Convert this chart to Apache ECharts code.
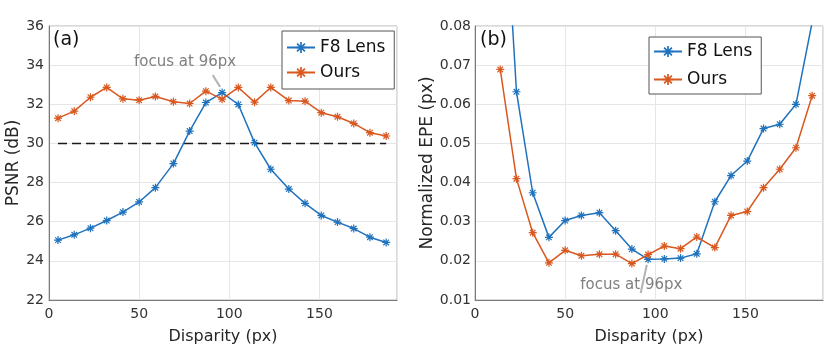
<!DOCTYPE html>
<html>
<head>
<meta charset="utf-8">
<script src="https://cdn.jsdelivr.net/npm/echarts@6/dist/echarts.min.js"></script>
<style>
  html, body { margin: 0; padding: 0; background: #fff; }
  #chart { width: 830px; height: 346px; }
</style>
</head>
<body>
<div id="chart"></div>
<script>
// disparity samples (px)
const dispX = [5, 14, 23, 32, 41, 50, 59, 69, 78, 87, 96, 105, 114, 123, 133, 142, 151, 160, 169, 178, 187];
// (a) PSNR (dB)
const psnrF8 = [25.06, 25.33, 25.67, 26.06, 26.49, 27.01, 27.74, 28.97, 30.63, 32.09, 32.60, 31.99, 30.04, 28.68, 27.67, 26.94, 26.32, 25.98, 25.65, 25.21, 24.94];
const psnrOurs = [31.29, 31.65, 32.36, 32.86, 32.28, 32.21, 32.40, 32.13, 32.04, 32.67, 32.26, 32.86, 32.11, 32.86, 32.19, 32.16, 31.57, 31.36, 31.02, 30.55, 30.38];
const psnrRef = 30;
const refX = [5, 187];
// (b) normalized EPE (px), starts at 14px
const epeX = [14, 23, 32, 41, 50, 59, 69, 78, 87, 96, 105, 114, 123, 133, 142, 151, 160, 169, 178, 187];
const epeF8 = [0.133, 0.0632, 0.0374, 0.0260, 0.0303, 0.0316, 0.0323, 0.0277, 0.0230, 0.0204, 0.0205, 0.0207, 0.0218, 0.0351, 0.0418, 0.0455, 0.0538, 0.0549, 0.0600, 0.0810];
const epeOurs = [0.0689, 0.0410, 0.0272, 0.0195, 0.0227, 0.0213, 0.0217, 0.0217, 0.0193, 0.0216, 0.0238, 0.0231, 0.0261, 0.0234, 0.0316, 0.0326, 0.0387, 0.0434, 0.0489, 0.0622];

const FONT = 'DejaVu Sans';
const BLUE = '#1f72bd';
const ORANGE = '#d9581f';
// asterisk marker like matlab '*'
const STAR = 'path://M-1.5,-10L1.5,-10L1.5,10L-1.5,10Z' +
  'M-10,-1.5L10,-1.5L10,1.5L-10,1.5Z' +
  'M-5.94,-8.06L8.06,5.94L5.94,8.06L-8.06,-5.94Z' +
  'M-8.06,5.94L5.94,-8.06L8.06,-5.94L-5.94,8.06Z';

function zip (xs, ys) {
  return xs.map((x, i) => [x, ys[i]]);
}

function xAxisOf (idx) {
  return {
    type: 'value',
    gridIndex: idx,
    min: 0,
    max: 193,
    interval: 50,
    name: 'Disparity (px)',
    nameLocation: 'middle',
    nameGap: 29,
    nameTextStyle: { fontFamily: FONT, fontSize: 16, color: '#262626' },
    axisLine: { lineStyle: { color: '#7a7a7a' } },
    axisTick: { show: false },
    axisLabel: { fontFamily: FONT, fontSize: 14, color: '#333', margin: 7, showMaxLabel: false },
    splitLine: { lineStyle: { color: '#e6e6e6' } }
  };
}

function lineSeries (name, idx, data, color) {
  return {
    name: name,
    type: 'line',
    xAxisIndex: idx,
    yAxisIndex: idx,
    data: data,
    symbol: STAR,
    symbolSize: 8,
    showAllSymbol: true,
    lineStyle: { color: color, width: 1.5 },
    itemStyle: { color: color },
    animation: false
  };
}

const chart = echarts.init(document.getElementById('chart'));
const option = {
  animation: false,
  grid: [
    { left: 49, top: 26, right: 433, bottom: 46, outerBoundsMode: 'none', containLabel: false, show: true, borderColor: '#b5b5b5', borderWidth: 1 },
    { left: 475, top: 26, right: 7, bottom: 46, outerBoundsMode: 'none', containLabel: false, show: true, borderColor: '#b5b5b5', borderWidth: 1 }
  ],
  xAxis: [xAxisOf(0), xAxisOf(1)],
  yAxis: [
    {
      type: 'value',
      gridIndex: 0,
      min: 22,
      max: 36,
      interval: 2,
      name: 'PSNR (dB)',
      nameLocation: 'middle',
      nameGap: 25,
      nameTextStyle: { fontFamily: FONT, fontSize: 17, color: '#262626' },
      axisLine: { show: true, lineStyle: { color: '#7a7a7a' } },
      axisTick: { show: false },
      axisLabel: { fontFamily: FONT, fontSize: 14, color: '#333', margin: 5 },
      splitLine: { lineStyle: { color: '#e6e6e6' } }
    },
    {
      type: 'value',
      gridIndex: 1,
      min: 0.01,
      max: 0.08,
      interval: 0.01,
      name: 'Normalized EPE (px)',
      nameLocation: 'middle',
      nameGap: 38,
      nameTextStyle: { fontFamily: FONT, fontSize: 17, color: '#262626' },
      axisLine: { show: true, lineStyle: { color: '#7a7a7a' } },
      axisTick: { show: false },
      axisLabel: {
        fontFamily: FONT, fontSize: 14, color: '#333', margin: 4,
        formatter: function (v) { return v.toFixed(2); }
      },
      splitLine: { lineStyle: { color: '#e6e6e6' } }
    }
  ],
  legend: [
    {
      orient: 'vertical',
      left: 282,
      top: 31,
      data: ['F8 Lens', 'Ours'],
      itemWidth: 28,
      itemHeight: 14,
      itemGap: 8,
      padding: [8, 9, 8, 4],
      backgroundColor: '#fff',
      borderColor: '#555',
      borderWidth: 1,
      borderRadius: 0,
      textStyle: { fontFamily: FONT, fontSize: 17, color: '#111' },
      selectedMode: false
    },
    {
      orient: 'vertical',
      left: 649,
      top: 37,
      data: ['F8 Lens', 'Ours'],
      itemWidth: 28,
      itemHeight: 14,
      itemGap: 11,
      padding: [6, 9, 6, 4],
      backgroundColor: '#fff',
      borderColor: '#555',
      borderWidth: 1,
      borderRadius: 0,
      textStyle: { fontFamily: FONT, fontSize: 17, color: '#111' },
      selectedMode: false
    }
  ],
  series: [
    {
      name: 'ref',
      type: 'line',
      xAxisIndex: 0,
      yAxisIndex: 0,
      data: zip(refX, refX.map(() => psnrRef)),
      symbol: 'none',
      lineStyle: { color: '#1a1a1a', width: 1.4, type: [9, 5] },
      silent: true,
      z: 1
    },
    lineSeries('F8 Lens', 0, zip(dispX, psnrF8), BLUE),
    lineSeries('Ours', 0, zip(dispX, psnrOurs), ORANGE),
    lineSeries('F8 Lens', 1, zip(epeX, epeF8), BLUE),
    lineSeries('Ours', 1, zip(epeX, epeOurs), ORANGE)
  ]
};
chart.setOption(option);

// annotations placed in data coordinates
function px (idx, p) {
  return chart.convertToPixel({ gridIndex: idx }, p);
}
const aText = px(0, [75.5, 34.17]);
const aL1 = px(0, [90.8, 33.49]);
const aL2 = px(0, [94.9, 32.89]);
const bText = px(1, [86.7, 0.0139]);
const bL1 = px(1, [95.3, 0.0190]);
const bL2 = px(1, [91.9, 0.0118]);
const annoStyle = { fontFamily: FONT, fontSize: 15, fill: '#7f7f7f', align: 'center', verticalAlign: 'middle' };
const panelStyle = { fontFamily: FONT, fontSize: 19, fill: '#111', verticalAlign: 'middle' };
chart.setOption({
  graphic: [
    { type: 'line', shape: { x1: aL1[0], y1: aL1[1], x2: aL2[0], y2: aL2[1] }, style: { stroke: '#b3b3b3', lineWidth: 2 }, z: 10 },
    { type: 'text', x: aText[0], y: aText[1], style: Object.assign({ text: 'focus at 96px' }, annoStyle), z: 10 },
    { type: 'line', shape: { x1: bL1[0], y1: bL1[1], x2: bL2[0], y2: bL2[1] }, style: { stroke: '#b3b3b3', lineWidth: 2 }, z: 10 },
    { type: 'text', x: bText[0], y: bText[1], style: Object.assign({ text: 'focus at 96px' }, annoStyle), z: 10 },
    { type: 'text', x: 53, y: 40, style: Object.assign({ text: '(a)' }, panelStyle), z: 10 },
    { type: 'text', x: 480, y: 40, style: Object.assign({ text: '(b)' }, panelStyle), z: 10 }
  ]
});
</script>
</body>
</html>
